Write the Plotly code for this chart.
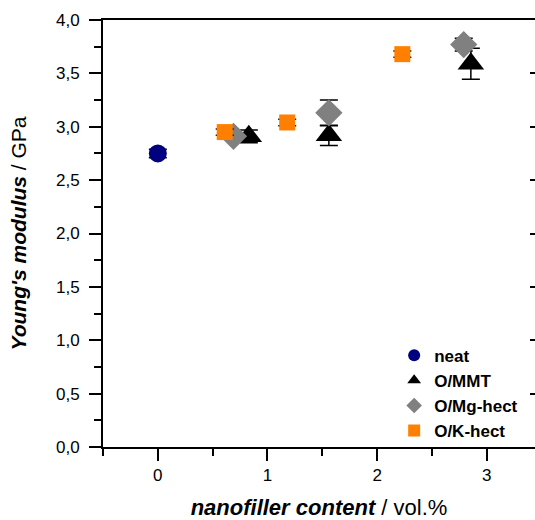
import plotly.graph_objects as go

# Data
neat_x = [0.0]
neat_y = [2.75]
neat_e = [0.04]

mmt_x = [0.83, 1.56, 2.855]
mmt_y = [2.91, 2.92, 3.59]
mmt_e = [0.06, 0.095, 0.145]

mg_x = [0.69, 1.56, 2.79]
mg_y = [2.91, 3.13, 3.77]
mg_e = [0.03, 0.12, 0.06]

k_x = [0.61, 1.18, 2.23]
k_y = [2.95, 3.04, 3.68]
k_e = [0.03, 0.03, 0.03]

y_tickvals = [0, 0.5, 1.0, 1.5, 2.0, 2.5, 3.0, 3.5, 4.0]
y_ticktext = ["0,0", "0,5", "1,0", "1,5", "2,0", "2,5", "3,0", "3,5", "4,0"]
x_tickvals = [0, 1, 2, 3]
x_ticktext = ["0", "1", "2", "3"]

font_family = "Liberation Sans, Arial, sans-serif"

fig = go.Figure()

def add(name, xs, ys, es, symbol, color, size):
    fig.add_trace(go.Scatter(
        x=xs, y=ys, name=name, mode="markers",
        marker=dict(symbol=symbol, color=color, size=size, line=dict(width=0)),
        error_y=dict(type="data", array=es, visible=True, color="black",
                     thickness=1.5, width=9),
    ))

add("neat", neat_x, neat_y, neat_e, "circle", "#000080", 18)
add("O/MMT", mmt_x, mmt_y, mmt_e, "triangle-up", "black", 23)
add("O/Mg-hect", mg_x, mg_y, mg_e, "diamond", "#808080", 21)
add("O/K-hect", k_x, k_y, k_e, "square", "#FF8000", 16)

# invisible trace to carry the right-hand tick axis
fig.add_trace(go.Scatter(x=[0], y=[-10], yaxis="y2", mode="markers",
                         showlegend=False, hoverinfo="skip"))

fig.update_layout(
    width=535, height=520,
    margin=dict(l=103, r=0, t=20, b=73),
    plot_bgcolor="white", paper_bgcolor="white",
    font=dict(family=font_family, color="black", size=16),
    showlegend=True,
    legend=dict(x=0.674, y=-0.004, xanchor="left", yanchor="bottom",
                bgcolor="rgba(0,0,0,0)",
                font=dict(family=font_family, size=17, weight="bold"),
                itemsizing="constant", tracegroupgap=0),
    xaxis=dict(
        range=[-0.5, 3.44], tickvals=x_tickvals, ticktext=x_ticktext,
        automargin=False,
        showgrid=False, zeroline=False,
        showline=True, linecolor="black", linewidth=2, mirror=True,
        ticks="outside", ticklen=12, tickwidth=2, tickcolor="black",
        minor=dict(dtick=0.5, tick0=0, ticks="outside", ticklen=7, tickwidth=2, tickcolor="black"),
        tickfont=dict(size=17),
        title=dict(text="<b><i>nanofiller content</i></b> / vol.%", font=dict(size=22), standoff=17),
    ),
    yaxis=dict(
        range=[0, 4.0], tickvals=y_tickvals, ticktext=y_ticktext,
        automargin=False,
        showgrid=False, zeroline=False,
        showline=True, linecolor="black", linewidth=2, mirror=False,
        ticks="outside", ticklen=12, tickwidth=2, tickcolor="black",
        ticklabelstandoff=6,
        minor=dict(dtick=0.25, tick0=0, ticks="outside", ticklen=7, tickwidth=2, tickcolor="black"),
        tickfont=dict(size=17),
        title=dict(text="<b><i>Young's modulus</i></b> / GPa", font=dict(size=21), standoff=24),
    ),
    yaxis2=dict(
        range=[0, 4.0], overlaying="y", side="right", anchor="x",
        tickvals=y_tickvals, showticklabels=False, automargin=False,
        showgrid=False, zeroline=False, showline=False,
        ticks="inside", ticklen=5, tickwidth=2, tickcolor="black",
    ),
)

fig.write_html("out.html", config={"displayModeBar": False},
               post_script="document.body.style.margin='0';")
